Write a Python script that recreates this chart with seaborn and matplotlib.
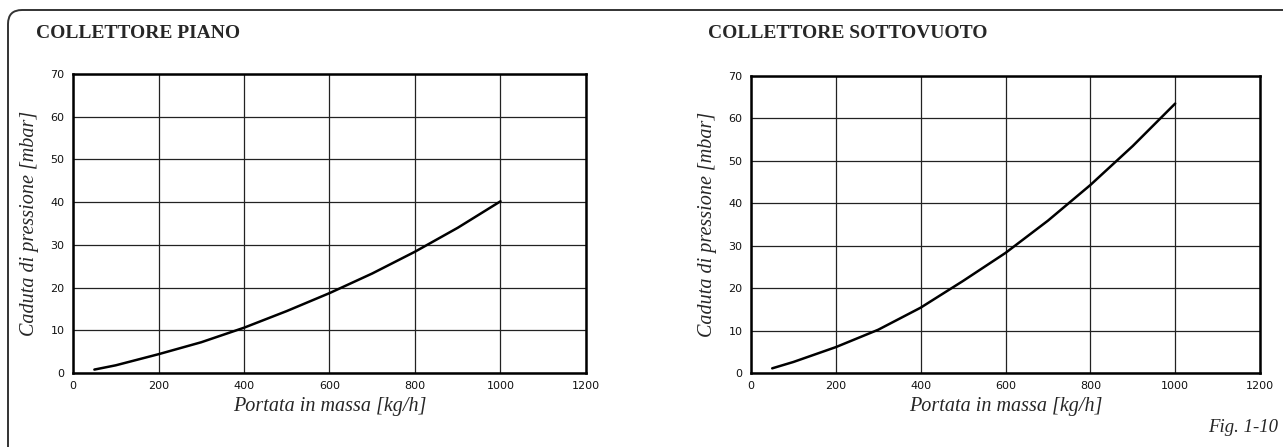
import numpy as np
import pandas as pd
import seaborn as sns
import matplotlib.pyplot as plt
from matplotlib.patches import FancyBboxPatch

# Dati
portata = [50, 100, 200, 300, 400, 500, 600, 700, 800, 900, 1000]
caduta_piano = [0.8, 1.8, 4.4, 7.2, 10.6, 14.5, 18.7, 23.3, 28.4, 34.0, 40.2]
caduta_sottovuoto = [1.1, 2.6, 6.1, 10.2, 15.4, 21.7, 28.3, 35.9, 44.3, 53.5, 63.5]

titoli = ["COLLETTORE PIANO", "COLLETTORE SOTTOVUOTO"]
x_ticks = [0, 200, 400, 600, 800, 1000, 1200]
y_ticks = [0, 10, 20, 30, 40, 50, 60, 70]

df_piano = pd.DataFrame({"Portata": portata, "Caduta": caduta_piano})
df_vuoto = pd.DataFrame({"Portata": portata, "Caduta": caduta_sottovuoto})

sns.set_style("white")
plt.rcParams["font.family"] = ["DejaVu Sans"]

fig = plt.figure(figsize=(12.83, 4.47), dpi=100)

# cornice arrotondata (aperta a destra e in basso)
cornice = FancyBboxPatch((0.08, -1.0), 20, 4.37 + 1.0,
                         boxstyle="round,pad=0,rounding_size=0.14",
                         transform=fig.dpi_scale_trans, fill=False,
                         edgecolor="#333333", linewidth=1.4)
fig.add_artist(cornice)

ax1 = fig.add_axes([73 / 1283, 74 / 447, 513 / 1283, 299 / 447])
ax2 = fig.add_axes([751 / 1283, 74 / 447, 509 / 1283, 297 / 447])

for ax, df, titolo, tx in [(ax1, df_piano, titoli[0], 36), (ax2, df_vuoto, titoli[1], 708)]:
    sns.lineplot(data=df, x="Portata", y="Caduta", ax=ax, color="black", linewidth=1.8)
    ax.set_xlim(0, 1200)
    ax.set_ylim(0, 70)
    ax.set_xticks(x_ticks)
    ax.set_yticks(y_ticks)
    ax.tick_params(axis="both", length=0, labelsize=8, pad=6, colors="#111111")
    ax.grid(True, color="#222222", linewidth=0.9)
    for sp in ax.spines.values():
        sp.set_visible(True)
        sp.set_color("black")
        sp.set_linewidth(1.8)
    ax.set_xlabel("Portata in massa [kg/h]", fontfamily="Liberation Serif",
                  fontstyle="italic", fontsize=14.5, labelpad=4)
    ax.set_ylabel("Caduta di pressione [mbar]", fontfamily="Liberation Serif",
                  fontstyle="italic", fontsize=14.5, labelpad=8)
    fig.text(tx / 1283, 1 - 33 / 447, titolo, fontfamily="Liberation Serif",
             fontweight="bold", fontsize=14, va="center", ha="left")

fig.text(1278 / 1283, 1 - 428 / 447, "Fig. 1-10", fontfamily="Liberation Serif",
         fontstyle="italic", fontsize=13.5, ha="right", va="center")

fig.savefig("out.png", dpi=100)
